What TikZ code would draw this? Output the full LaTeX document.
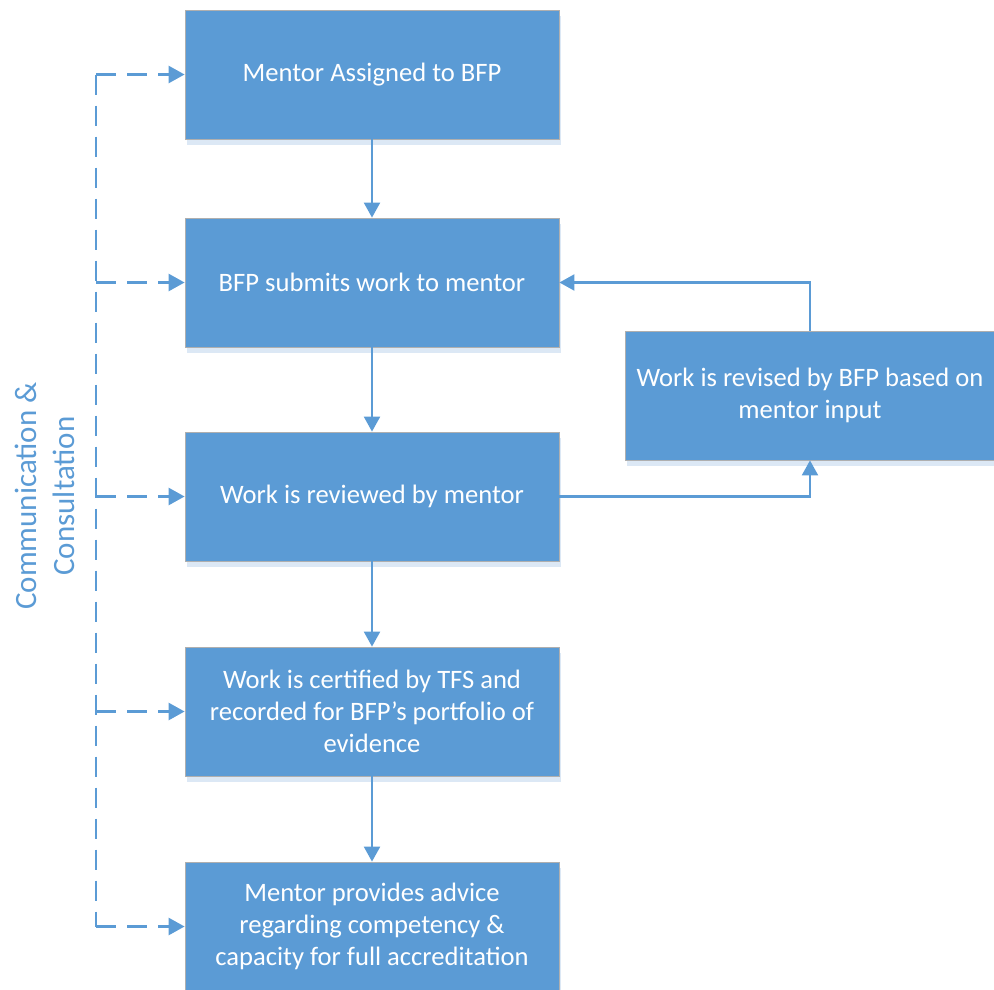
\documentclass[tikz,border=0pt]{standalone}
\usepackage{fontspec}
\setmainfont{Carlito}
\usetikzlibrary{arrows.meta,shadows}
\definecolor{boxblue}{HTML}{5B9BD5}
\definecolor{boxedge}{HTML}{AFAFAF}
\definecolor{shadeblue}{HTML}{DCE8F5}
\tikzset{
  stepbox/.style={rectangle, fill=boxblue, draw=boxedge, line width=0.8pt,
    minimum width=374pt, minimum height=129pt, inner sep=4pt,
    text=white, align=center, font=\fontsize{26.6}{32}\selectfont,
    drop shadow={shadow xshift=2pt, shadow yshift=-6pt, fill=shadeblue, opacity=1}},
  flow/.style={draw=boxblue, line width=2.2pt, -{Triangle[length=15pt,width=16pt]}},
  dline/.style={draw=boxblue, line width=2.6pt, dash pattern=on 20pt off 11pt},
  darr/.style={dline, -{Triangle[length=16pt,width=17pt]}}
}
\begin{document}
\begin{tikzpicture}[x=1pt,y=-1pt]
\useasboundingbox (0,0) rectangle (994,989);
\node[stepbox] (b1) at (372,74.5) {Mentor Assigned to BFP};
\node[stepbox] (b2) at (372,282.5) {BFP submits work to mentor};
\node[stepbox] (b3) at (372,496.5) {Work is reviewed by mentor};
\node[stepbox] (b4) at (372,711.5) {Work is certified by TFS and\\recorded for BFP’s portfolio of\\evidence};
\node[stepbox] (b5) at (372,926.5) {Mentor provides advice\\regarding competency \&\\capacity for full accreditation};
\node[stepbox, minimum width=370pt] (s) at (810,395.5) {Work is revised by BFP based on\\mentor input};

\draw[flow] (b1) -- (b2);
\draw[flow] (b2) -- (b3);
\draw[flow] (b3) -- (b4);
\draw[flow] (b4) -- (b5);
\draw[flow] (s.north) |- (b2.east);
\draw[flow] (b3.east) -| (s.south);

\coordinate (d1) at (96,74.5);
\coordinate (d2) at (96,282.5);
\coordinate (d3) at (96,496.5);
\coordinate (d4) at (96,711.5);
\coordinate (d5) at (96,926.5);
\draw[dline] (d1) -- (d5);
\draw[darr] (d1) -- (b1.west);
\draw[darr] (d2) -- (b2.west);
\draw[darr] (d3) -- (b3.west);
\draw[darr] (d4) -- (b4.west);
\draw[darr] (d5) -- (b5.west);

\node[rotate=90, text=boxblue, align=center, font=\fontsize{31}{38}\selectfont] (lab) at (45,496) {Communication \&\\Consultation};
\end{tikzpicture}
\end{document}
